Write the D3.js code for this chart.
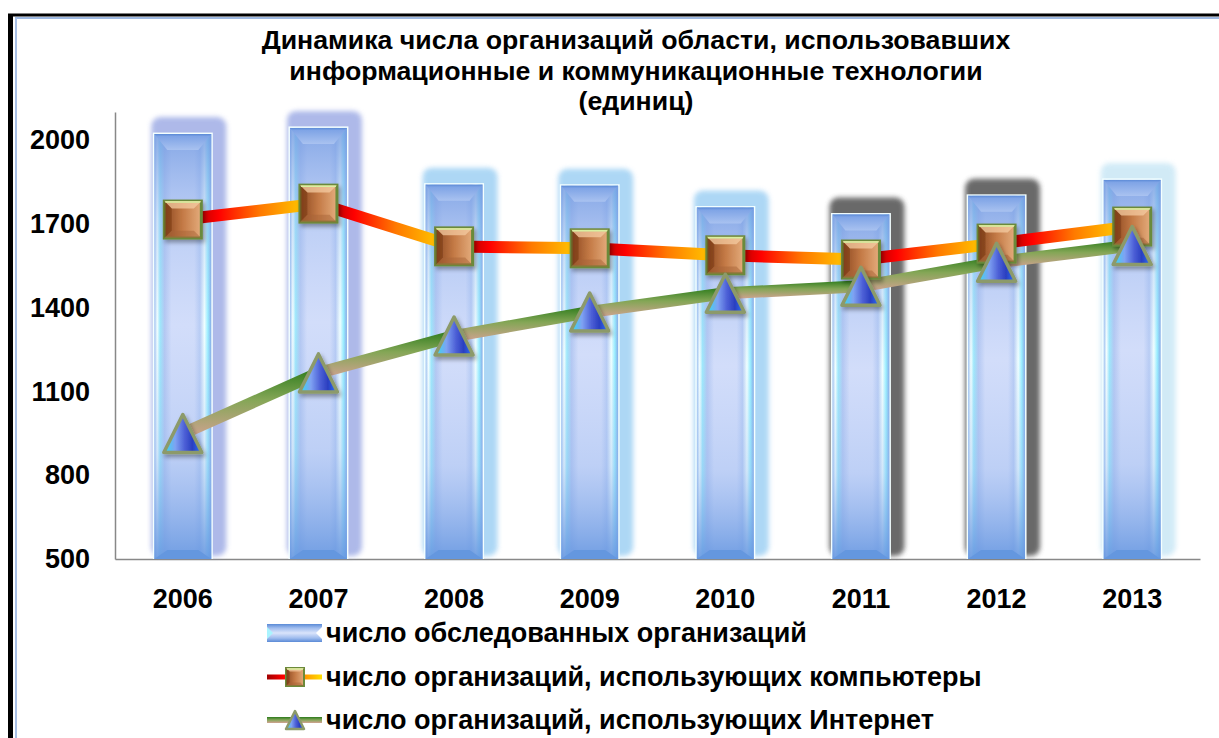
<!DOCTYPE html>
<html>
<head>
<meta charset="utf-8">
<script src="https://cdn.jsdelivr.net/npm/d3@7/dist/d3.min.js"></script>
<style>
  body { margin: 0; background: #ffffff; }
  svg { display: block; font-family: "Liberation Sans", Arial, sans-serif; font-weight: bold; }
</style>
</head>
<body>
<svg id="chart" width="1219" height="738"></svg>
<script>
// данные диаграммы
var years = ["2006", "2007", "2008", "2009", "2010", "2011", "2012", "2013"];
var surveyed = [2021, 2043, 1840, 1836, 1758, 1733, 1800, 1857];
var withComputers = [1715, 1772, 1619, 1612, 1587, 1572, 1629, 1690];
var withInternet = [949, 1166, 1298, 1384, 1451, 1476, 1562, 1622];
var yTicks = [500, 800, 1100, 1400, 1700, 2000];
var titleLines = [
    "Динамика числа организаций области, использовавших",
    "информационные и коммуникационные технологии",
    "(единиц)"
];
var legendLabels = [
    "число обследованных организаций",
    "число организаций, использующих компьютеры",
    "число организаций, использующих Интернет"
];
// цвет подсветки вокруг столбиков
var glowColors = ["#93a2e2", "#93a2e2", "#92caf2", "#92caf2", "#92caf2", "#505050", "#505050", "#c2e4f4"];

var svg = d3.select("#chart");
var defs = svg.append("defs");

var x = d3.scaleBand().domain(years).range([115, 1200]);
var y = d3.scaleLinear().domain([500, 2100]).range([559, 112]);

// градиенты
function addLinear(id, x1, y1, x2, y2, stops, units) {
    var g = defs.append("linearGradient").attr("id", id)
        .attr("x1", x1).attr("y1", y1).attr("x2", x2).attr("y2", y2);
    if (units) g.attr("gradientUnits", units);
    stops.forEach(function(s) {
        g.append("stop").attr("offset", s[0]).attr("stop-color", s[1])
            .attr("stop-opacity", s.length > 2 ? s[2] : 1);
    });
    return g;
}

addLinear("barH", 0, 0, 1, 0, [
    [0, "#9cc0f0"], [0.05, "#f4ffff"], [0.1, "#9ee8fb"], [0.18, "#b4c8f2"],
    [0.3, "#d2ddfa"], [0.7, "#d2ddfa"], [0.8, "#b8ccf4"], [0.88, "#f0ffff"],
    [0.94, "#9aeeff"], [1, "#86aae6"]
]);
addLinear("barV", 0, 0, 0, 1, [
    [0, "#7098e0", 0.8], [0.2, "#8fb0ec", 0.35], [0.45, "#a0bcf0", 0], [0.75, "#8db0ec", 0.3], [1, "#6596e0", 0.9]
]);
addLinear("bevelTop", 0, 0, 0, 1, [[0, "#5b8ad6"], [0.15, "#7fa4e6"], [1, "#a9c2f0"]]);
addLinear("sqFill", 0, 0, 1, 0, [[0, "#8c4820"], [0.5, "#c47a46"], [1, "#e4ac7c"]]);
addLinear("triFill", 0, 0, 1, 0, [
    [0, "#2fe0f2"], [0.3, "#7fa2f2"], [0.55, "#4c5fd6"], [0.75, "#2a3fc0"], [1, "#2f78ff"]
]);
addLinear("legBar", 0, 0, 0, 1, [
    [0, "#5a8ad6"], [0.22, "#9fbcee"], [0.5, "#dae4fb"], [0.78, "#9fbcee"], [1, "#5a8ad6"]
]);

var glow = defs.append("filter").attr("id", "glow")
    .attr("x", "-40%").attr("y", "-20%").attr("width", "180%").attr("height", "140%");
glow.append("feGaussianBlur").attr("stdDeviation", 2.5);

var shadow = defs.append("filter").attr("id", "shadow")
    .attr("x", "-30%").attr("y", "-30%").attr("width", "160%").attr("height", "160%");
shadow.append("feDropShadow").attr("dx", 2).attr("dy", 3).attr("stdDeviation", 2)
    .attr("flood-color", "#000").attr("flood-opacity", 0.35);

// рамка
svg.append("line").attr("x1", 8).attr("y1", 15).attr("x2", 1219).attr("y2", 15)
    .attr("stroke", "#000").attr("stroke-width", 3);
svg.append("line").attr("x1", 10.5).attr("y1", 14).attr("x2", 10.5).attr("y2", 738)
    .attr("stroke", "#000").attr("stroke-width", 5);
svg.append("line").attr("x1", 15).attr("y1", 18).attr("x2", 1219).attr("y2", 18)
    .attr("stroke", "#7ea2d8").attr("stroke-width", 1.5);
svg.append("line").attr("x1", 16).attr("y1", 18).attr("x2", 16).attr("y2", 738)
    .attr("stroke", "#a8c0e6").attr("stroke-width", 2);

// заголовок
svg.append("g").selectAll("text")
    .data(titleLines)
    .enter().append("text")
    .attr("x", 636)
    .attr("y", function(d, i) { return 49 + i * 30.5; })
    .attr("text-anchor", "middle")
    .style("font-size", "26.7px")
    .text(function(d) { return d; });

// оси
var yAxis = svg.append("g")
    .attr("transform", "translate(115,0)")
    .call(d3.axisLeft(y).tickValues(yTicks).tickSize(0).tickSizeOuter(0).tickPadding(25).tickFormat(d3.format("d")));
yAxis.selectAll("text").style("font-size", "27px").style("fill", "#000");
yAxis.select(".domain").attr("stroke", "#888").attr("stroke-width", 1.5);

var xAxis = svg.append("g")
    .attr("transform", "translate(0,559)")
    .call(d3.axisBottom(x).tickSize(0).tickSizeOuter(0).tickPadding(30));
xAxis.selectAll("text").style("font-size", "27px").style("fill", "#000");
xAxis.select(".domain").attr("stroke", "#888").attr("stroke-width", 1.5);

// столбики
var bw = x.bandwidth() * 0.42;
var bev = 13;
var base = y(500);
var bars = svg.append("g").selectAll("g")
    .data(surveyed)
    .enter().append("g");

bars.append("rect")
    .attr("x", function(d, i) { return x(years[i]) + (x.bandwidth() - bw) / 2 - 3; })
    .attr("y", function(d) { return y(d) - 17; })
    .attr("width", bw + 18)
    .attr("height", function(d) { return base - y(d) + 14; })
    .attr("rx", 9)
    .attr("fill", function(d, i) { return glowColors[i]; })
    .attr("opacity", function(d, i) { return i === 5 || i === 6 ? 0.85 : 0.75; })
    .attr("filter", "url(#glow)");

bars.append("rect")
    .attr("x", function(d, i) { return x(years[i]) + (x.bandwidth() - bw) / 2 - 1.5; })
    .attr("y", function(d) { return y(d) - 1.5; })
    .attr("width", bw + 3)
    .attr("height", function(d) { return base - y(d) + 1.5; })
    .attr("fill", "#f4ffff");

bars.append("rect")
    .attr("x", function(d, i) { return x(years[i]) + (x.bandwidth() - bw) / 2; })
    .attr("y", function(d) { return y(d); })
    .attr("width", bw)
    .attr("height", function(d) { return base - y(d); })
    .attr("fill", "url(#barH)");

bars.append("rect")
    .attr("x", function(d, i) { return x(years[i]) + (x.bandwidth() - bw) / 2; })
    .attr("y", function(d) { return y(d); })
    .attr("width", bw)
    .attr("height", function(d) { return base - y(d); })
    .attr("fill", "url(#barV)");

bars.append("polygon")
    .attr("points", function(d, i) {
        var l = x(years[i]) + (x.bandwidth() - bw) / 2, r = l + bw, t = y(d);
        return [[l, t], [r, t], [r - bev, t + bev + 3], [l + bev, t + bev + 3]].join(" ");
    })
    .attr("fill", "url(#bevelTop)");

bars.append("polygon")
    .attr("points", function(d, i) {
        var l = x(years[i]) + (x.bandwidth() - bw) / 2, r = l + bw;
        return [[l, base], [r, base], [r - bev, base - 9], [l + bev, base - 9]].join(" ");
    })
    .attr("fill", "#6497df");

// линии с градиентом по сегментам
function pointsOf(values) {
    return values.map(function(v, i) { return [x(years[i]) + x.bandwidth() / 2, y(v)]; });
}

var compPts = pointsOf(withComputers);
var netPts = pointsOf(withInternet);

var segs = svg.append("g");
for (var i = 0; i < netPts.length - 1; i++) {
    var a = netPts[i], b = netPts[i + 1];
    addLinear("netSeg" + i, 0, Math.min(a[1], b[1]) - 6, 0, Math.max(a[1], b[1]) + 6, [
        [0, "#2a7a1a"], [0.45, "#84a656"], [1, "#d4a294"]
    ], "userSpaceOnUse");
    segs.append("line")
        .attr("x1", a[0]).attr("y1", a[1]).attr("x2", b[0]).attr("y2", b[1])
        .attr("stroke", "url(#netSeg" + i + ")")
        .attr("stroke-width", 12);
}
for (var j = 0; j < compPts.length - 1; j++) {
    var p = compPts[j], q = compPts[j + 1];
    addLinear("compSeg" + j, p[0] + 18, 0, q[0] - 18, 0, [
        [0, "#c40000"], [0.18, "#ff0000"], [0.6, "#ff7a00"], [1, "#ffc000"]
    ], "userSpaceOnUse");
    segs.append("line")
        .attr("x1", p[0]).attr("y1", p[1]).attr("x2", q[0]).attr("y2", q[1])
        .attr("stroke", "url(#compSeg" + j + ")")
        .attr("stroke-width", 12);
}

// маркеры
function drawSquare(g, s) {
    var h = s / 2, k = s * 0.3;
    g.append("rect").attr("x", -h).attr("y", -h).attr("width", s).attr("height", s)
        .attr("fill", "url(#sqFill)").attr("stroke", "#6b8a3a").attr("stroke-width", s > 25 ? 3 : 2);
    g.append("polygon").attr("points", [[-h, -h], [h, -h], [k, -k], [-k, -k]].join(" "))
        .attr("fill", "#f4cba2").attr("opacity", 0.75);
    g.append("polygon").attr("points", [[-h, -h], [-k, -k], [-k, k], [-h, h]].join(" "))
        .attr("fill", "#6e3010").attr("opacity", 0.45);
    g.append("polygon").attr("points", [[-h, h], [-k, k], [k, k], [h, h]].join(" "))
        .attr("fill", "#a86438").attr("opacity", 0.5);
    g.append("line").attr("x1", -h + 1).attr("y1", -h + 1).attr("x2", h - 1).attr("y2", -h + 1)
        .attr("stroke", "#d8f0a0").attr("stroke-width", 1.5);
}

function drawTriangle(g, s) {
    var h = s / 2;
    g.append("polygon").attr("points", [[0, -h], [h, h], [-h, h]].join(" "))
        .attr("fill", "url(#triFill)").attr("stroke", "#8c9a6a")
        .attr("stroke-width", s > 25 ? 3.5 : 2.5).attr("stroke-linejoin", "round");
}

svg.append("g").selectAll("g")
    .data(compPts)
    .enter().append("g")
    .attr("transform", function(d) { return "translate(" + d[0] + "," + d[1] + ")"; })
    .attr("filter", "url(#shadow)")
    .each(function() { drawSquare(d3.select(this), 37); });

svg.append("g").selectAll("g")
    .data(netPts)
    .enter().append("g")
    .attr("transform", function(d) { return "translate(" + d[0] + "," + d[1] + ")"; })
    .attr("filter", "url(#shadow)")
    .each(function() { drawTriangle(d3.select(this), 38); });

// легенда
var legend = svg.append("g").attr("transform", "translate(267,0)");
var rowY = [633, 677, 720];

legend.append("rect").attr("x", 0).attr("y", rowY[0] - 9).attr("width", 55).attr("height", 18)
    .attr("fill", "url(#legBar)");
legend.append("polygon").attr("points", [[0, rowY[0] - 6], [6, rowY[0]], [0, rowY[0] + 6]].join(" "))
    .attr("fill", "#aaf4ff");
legend.append("polygon").attr("points", [[55, rowY[0] - 6], [49, rowY[0]], [55, rowY[0] + 6]].join(" "))
    .attr("fill", "#ffffff");

addLinear("legComp", 0, 0, 55, 0, [[0, "#a00000"], [0.3, "#ff0000"], [0.7, "#ff9900"], [1, "#ffe000"]], "userSpaceOnUse");
legend.append("line").attr("x1", 0).attr("x2", 55).attr("y1", rowY[1]).attr("y2", rowY[1])
    .attr("stroke", "url(#legComp)").attr("stroke-width", 5);
drawSquare(legend.append("g").attr("transform", "translate(28," + rowY[1] + ")"), 18);

addLinear("legNet", 0, rowY[2] - 3, 0, rowY[2] + 3, [[0, "#2c7a1c"], [0.5, "#86a75a"], [1, "#d2a292"]], "userSpaceOnUse");
legend.append("line").attr("x1", 0).attr("x2", 55).attr("y1", rowY[2]).attr("y2", rowY[2])
    .attr("stroke", "url(#legNet)").attr("stroke-width", 6);
drawTriangle(legend.append("g").attr("transform", "translate(28," + rowY[2] + ")"), 18);

legend.selectAll(".leg-text")
    .data(legendLabels)
    .enter().append("text")
    .attr("class", "leg-text")
    .attr("x", 59)
    .attr("y", function(d, i) { return rowY[i] + 9; })
    .style("font-size", "27px")
    .text(function(d) { return d; });
</script>
</body>
</html>
